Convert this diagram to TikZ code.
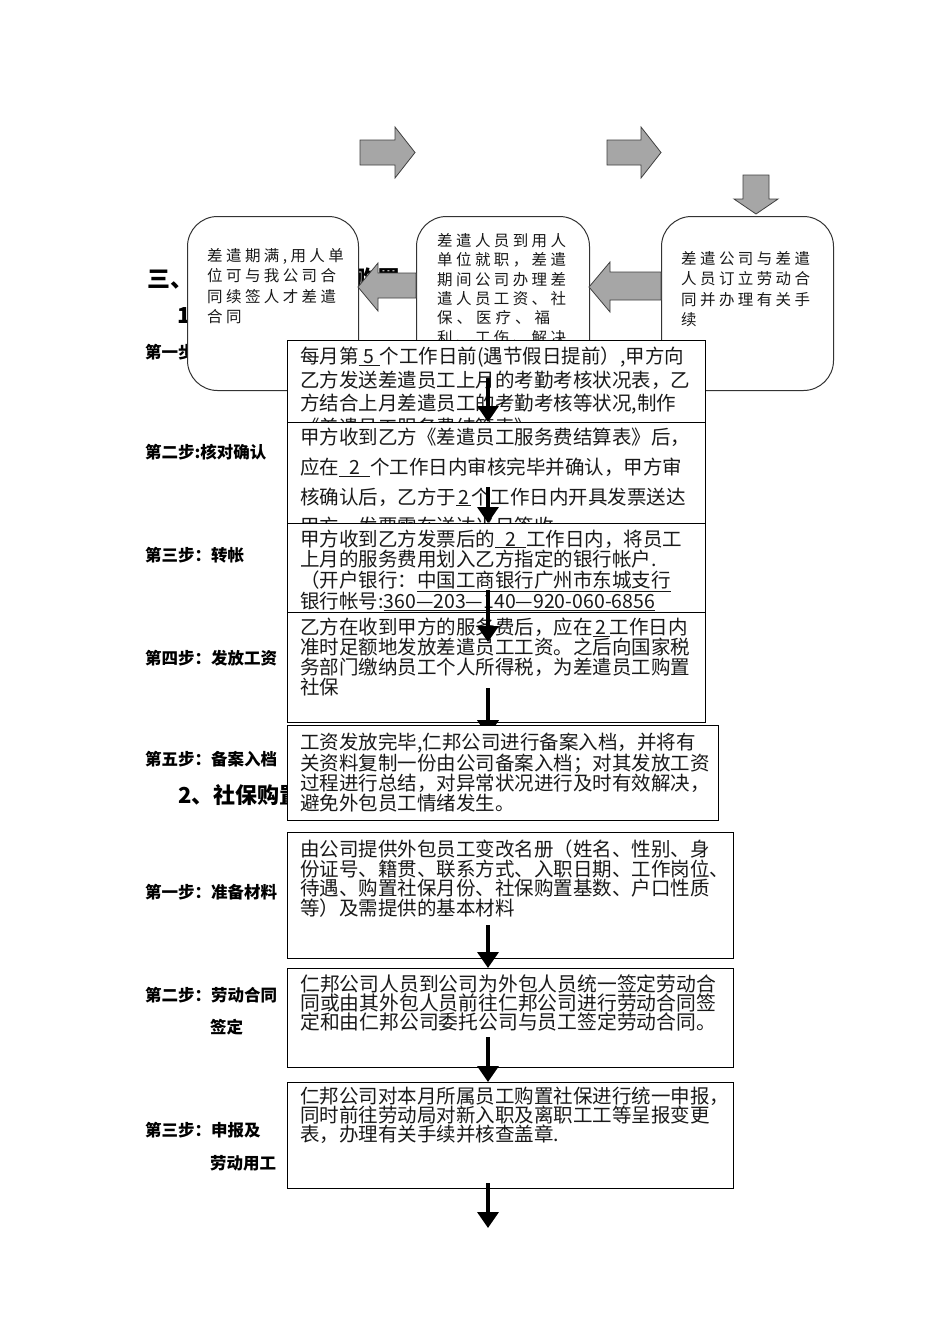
\documentclass[tikz,border=0pt]{standalone}
\usepackage{fontspec}
\setmainfont{Noto Sans CJK SC}
\newfontfamily\spacedcjk{Noto Sans CJK SC}[LetterSpace=22]
\usetikzlibrary{positioning, arrows.meta}

\tikzset{
  roundbox/.style={draw=black!80, line width=1pt, fill=white, rounded corners=30pt, anchor=north west, inner sep=0pt},
  stepbox/.style={draw, line width=1.2pt, fill=white, anchor=north west, inner sep=0pt},
  boxtext/.style={anchor=north west, align=left, inner sep=0pt, text=black!90},
  smalltext/.style={boxtext, font=\spacedcjk\fontsize{15.5}{20.5}\selectfont},
  steplabel/.style={anchor=west, inner sep=0pt, font=\fontsize{16.5}{20}\selectfont\bfseries},
  heading/.style={anchor=west, inner sep=0pt, font=\fontsize{22}{26}\selectfont\bfseries},
  flow/.style={line width=3.5pt, -{Triangle[width=21pt,length=16pt]}},
  bigarrow/.style={draw=black!75, line width=0.8pt, fill=black!35},
}

\begin{document}
\begin{tikzpicture}[x=1pt, y=-1pt]
    \useasboundingbox[fill=white] (0,0) rectangle (950,1344);

    % 标题
    \node[heading, font=\fontsize{23}{27}\selectfont\bfseries] (h3) at (147,279) {三、工资发放及社保购置};
    \node[heading] (h31) at (177,316) {1、};
    \node[steplabel] (s1) at (145,352) {第一步：};

    % 上方流程
    \node[roundbox, minimum width=171pt, minimum height=174pt] (lbox) at (187,216) {};
    \node[roundbox, minimum width=173pt, minimum height=174pt] (mbox) at (416,216) {};
    \node[roundbox, minimum width=172pt, minimum height=174pt] (rbox) at (661,216) {};
    \node[smalltext] (lt) at ([shift={(20,32)}]lbox.north west) {差遣期满,用人单\\位可与我公司合\\同续签人才差遣\\合同};
    \node[smalltext, font=\spacedcjk\fontsize{15.5}{19.4}\selectfont] (mt) at ([shift={(21,17)}]mbox.north west)
      {差遣人员到用人\\单位就职，差遣\\期间公司办理差\\遣人员工资、社\\保\hspace{4pt}、\hspace{4pt}医\hspace{4pt}疗\hspace{4pt}、\hspace{4pt}福\\利、工伤、解决\\劳资纠纷等事宜};
    \node[smalltext] (rt) at ([shift={(20,35)}]rbox.north west) {差遣公司与差遣\\人员订立劳动合\\同并办理有关手\\续};

    % 灰色箭头
    \draw[bigarrow] (360,140) -- (395,140) -- (395,127) -- (415,152.5) -- (395,178) -- (395,165) -- (360,165) -- cycle;
    \draw[bigarrow] (607,140) -- (641,140) -- (641,127) -- (661,152.5) -- (641,178) -- (641,165) -- (607,165) -- cycle;
    \draw[bigarrow] (743,175) -- (769,175) -- (769,199) -- (778,199) -- (756,214) -- (734,199) -- (743,199) -- cycle;
    \draw[bigarrow] (358,287) -- (378,263) -- (378,273) -- (416,273) -- (416,298) -- (378,298) -- (378,311) -- cycle;
    \draw[bigarrow] (589,287) -- (610,262) -- (610,272) -- (661,272) -- (661,300) -- (610,300) -- (610,312) -- cycle;

    % 步骤标签
    \node[steplabel] (s2) at (145,452) {第二步:核对确认};
    \node[steplabel] (s3) at (145,555) {第三步：转帐};
    \node[steplabel] (s4) at (145,658) {第四步：发放工资};
    \node[steplabel] (s5) at (145,759) {第五步：备案入档};
    \node[heading] (h2) at (178,795) {2、社保购置};
    \node[steplabel] (p1) at (145,892) {第一步：准备材料};
    \node[steplabel] (p2) at (145,995) {第二步：劳动合同};
    \node[steplabel] (p2b) at (210,1027) {签定};
    \node[steplabel] (p3) at (145,1130) {第三步：申报及};
    \node[steplabel] (p3b) at (210,1163) {劳动用工};

    % 第一部分
    \node[stepbox, minimum width=418pt, minimum height=82pt] (b1) at (287,340) {};
    \node[boxtext, font=\fontsize{19.5}{23.5}\selectfont] (t1) at ([shift={(13,7)}]b1.north west)
      {每月第\underline{\hspace{5pt}5\hspace{5pt}}个工作日前(遇节假日提前）,甲方向\\
       乙方发送差遣员工上月的考勤考核状况表，乙\\
       方结合上月差遣员工的考勤考核等状况,制作\\
       《差遣员工服务费结算表》};
    \node[stepbox, minimum width=418pt, minimum height=101pt] (b2) at (287,422) {};
    \node[boxtext, font=\fontsize{19.5}{29.7}\selectfont] (t2) at ([shift={(13,6)}]b2.north west)
      {甲方收到乙方《差遣员工服务费结算表》后，\\
       应在\underline{\hspace{10pt}2\hspace{10pt}}个工作日内审核完毕并确认，甲方审\\
       核确认后，乙方于\underline{\hspace{2pt}2\hspace{2pt}}个工作日内开具发票送达\\
       甲方，发票需在送达当日签收};
    \coordinate (f1) at (488,378);
    \draw[flow] (f1) -- (b2.north -| f1);
    \node[stepbox, minimum width=418pt, minimum height=89pt] (b3) at (287,523) {};
    \node[boxtext, font=\fontsize{19.5}{20.7}\selectfont] (t3) at ([shift={(13,6.5)}]b3.north west)
      {甲方收到乙方发票后的\underline{\hspace{10pt}2\hspace{10pt}}工作日内，将员工\\
       上月的服务费用划入乙方指定的银行帐户.\\
       （开户银行：\underline{中国工商银行广州市东城支行}\\
       银行帐号:\underline{360—203—140—920-060-6856}};
    \coordinate (f2) at (488,487);
    \draw[flow] (f2) -- (b3.north -| f2);
    \node[stepbox, minimum width=418pt, minimum height=110pt] (b4) at (287,612) {};
    \node[boxtext, font=\fontsize{19.5}{20}\selectfont] (t4) at ([shift={(13,6)}]b4.north west)
      {乙方在收到甲方的服务费后，应在\underline{\hspace{3pt}2\hspace{3pt}}工作日内\\
       准时足额地发放差遣员工工资。之后向国家税\\
       务部门缴纳员工个人所得税，为差遣员工购置\\
       社保};
    \coordinate (f3) at (488,590);
    \draw[flow] (f3) -- ([yshift=-30pt]b4.north -| f3);
    \coordinate (f4) at (488,688);
    \draw[flow] (f4) -- ([yshift=-13pt]b4.south -| f4);
    \node[stepbox, minimum width=431pt, minimum height=95pt] (b5) at (287,725) {};
    \node[boxtext, font=\fontsize{19.5}{20}\selectfont] (t5) at ([shift={(13,8)}]b5.north west)
      {工资发放完毕,仁邦公司进行备案入档，并将有\\
       关资料复制一份由公司备案入档；对其发放工资\\
       过程进行总结，对异常状况进行及时有效解决，\\
       避免外包员工情绪发生。};

    % 第二部分
    \node[stepbox, minimum width=446pt, minimum height=126pt] (b6) at (287,832) {};
    \node[boxtext, font=\fontsize{19.5}{19.5}\selectfont] (t6) at ([shift={(13,8)}]b6.north west)
      {由公司提供外包员工变改名册（姓名、性别、身\\
       份证号、籍贯、联系方式、入职日期、工作岗位、\\
       待遇、购置社保月份、社保购置基数、户口性质\\
       等）及需提供的基本材料};
    \coordinate (f6) at (488,925);
    \node[stepbox, minimum width=446pt, minimum height=99pt] (b7) at (287,968) {};
    \node[boxtext, font=\fontsize{19.8}{19}\selectfont] (t7) at ([shift={(13,7)}]b7.north west)
      {仁邦公司人员到公司为外包人员统一签定劳动合\\
       同或由其外包人员前往仁邦公司进行劳动合同签\\
       定和由仁邦公司委托公司与员工签定劳动合同。};
    \draw[flow] (f6) -- (b7.north -| f6);
    \coordinate (f7) at (488,1037);
    \node[stepbox, minimum width=446pt, minimum height=106pt] (b8) at (287,1082) {};
    \node[boxtext, font=\fontsize{19.5}{19}\selectfont] (t8) at ([shift={(13,5)}]b8.north west)
      {仁邦公司对本月所属员工购置社保进行统一申报，\\
       同时前往劳动局对新入职及离职工工等呈报变更\\
       表，办理有关手续并核查盖章.};
    \draw[flow] (f7) -- (b8.north -| f7);
    \coordinate (f8) at (488,1183);
    \coordinate (fend) at (488,1228);
    \draw[flow] (f8) -- (fend);
\end{tikzpicture}
\end{document}
